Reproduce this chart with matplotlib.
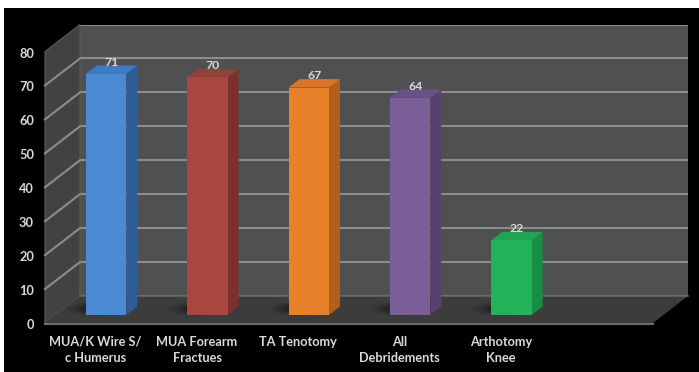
import matplotlib.pyplot as plt
from matplotlib.patches import Polygon, Rectangle, Ellipse
from matplotlib.transforms import IdentityTransform
import numpy as np

plt.rcParams['font.family'] = ['Lato', 'DejaVu Sans']

categories = ["MUA/K Wire S/\nc Humerus", "MUA Forearm\nFractues", "TA Tenotomy",
              "All\nDebridements", "Arthotomy\nKnee"]
values = [71, 70, 67, 64, 22]
yticks = [0, 10, 20, 30, 40, 50, 60, 70, 80]

front_colors = ["#4a8ad2", "#a9463f", "#e8822a", "#7a5e97", "#23b15c"]
side_colors = ["#2d5e98", "#7b302c", "#b35f1a", "#57416f", "#168f45"]
top_colors = ["#3d7cc4", "#93403a", "#d7762a", "#6a5287", "#1ea452"]

W, H = 699, 372
DX, DY = 35, 27          # depth offset of the front plane, in pixels
TXT = "#d9d9d9"
FS = 9.2

fig = plt.figure(figsize=(W / 100, H / 100), dpi=100, facecolor="white")
fig.add_artist(Rectangle((4 / W, 0), 1, 1 - 8 / H, transform=fig.transFigure,
                         facecolor="black", edgecolor="none", zorder=-10))

# back wall = the axes itself
ax = fig.add_axes([80 / W, (H - 296) / H, (688 - 80) / W, (296 - 24.5) / H])
ax.set_xlim(-0.5, 5.5)
ax.set_ylim(0, 80)
ax.set_facecolor("#4f5052")
for s in ax.spines.values():
    s.set_visible(False)
ax.set_xticks([])
ax.set_yticks(yticks)
ax.tick_params(left=False, labelleft=False)
ax.grid(axis="y", color="#8c8c8c", linewidth=1.5)
ax.set_axisbelow(True)

fig.canvas.draw()


def proj(x, v, d):
    px, py = ax.transData.transform((x, v))
    return (px - DX * d, py - DY * d)


def poly(pts, **kw):
    p = Polygon(pts, closed=True, transform=IdentityTransform(), clip_on=False, **kw)
    ax.add_artist(p)
    return p


def seg(a, b, **kw):
    ax.add_artist(plt.Line2D([a[0], b[0]], [a[1], b[1]], transform=IdentityTransform(),
                             clip_on=False, **kw))


x0, x1 = ax.get_xlim()

# left wall with its gridlines
poly([proj(x0, 0, 0), proj(x0, 80, 0), proj(x0, 80, 1), proj(x0, 0, 1)],
     facecolor="#414244", edgecolor="#5a5a5a", linewidth=0.8, zorder=2)
for t in yticks[1:-1]:
    seg(proj(x0, t, 0), proj(x0, t, 1), color="#8c8c8c", linewidth=1.5, zorder=2.1)

# floor
poly([proj(x0, 0, 0), proj(x1, 0, 0), proj(x1, 0, 1), proj(x0, 0, 1)],
     facecolor="#3c3c3d", edgecolor="none", zorder=2)
a, b = proj(x0, 0, 1), proj(x1, 0, 1)
seg((a[0], a[1] - 1), (b[0], b[1] - 1), color="#6e6e6e", linewidth=1.5, zorder=2.2)
seg(proj(x0, 0, 0), proj(x1, 0, 0), color="#666666", linewidth=1.2, zorder=2.2)

# bars
hw, d_front, d_back = 0.2, 0.7, 0.39
for i, v in enumerate(values):
    bl = proj(i - hw, 0, d_front)
    # soft shadow on the floor
    for w, h, al in [(56, 14, 0.10), (44, 10, 0.14), (32, 7, 0.18)]:
        ax.add_artist(Ellipse((bl[0] + 10, bl[1] + 6), w, h, transform=IdentityTransform(),
                              facecolor="black", alpha=al, edgecolor="none",
                              clip_on=False, zorder=3))
    poly([proj(i + hw, 0, d_front), proj(i + hw, 0, d_back),
          proj(i + hw, v, d_back), proj(i + hw, v, d_front)],
         facecolor=side_colors[i], edgecolor="none", zorder=4)
    poly([proj(i - hw, v, d_front), proj(i + hw, v, d_front),
          proj(i + hw, v, d_back), proj(i - hw, v, d_back)],
         facecolor=top_colors[i], edgecolor="none", zorder=4)
    poly([proj(i - hw, 0, d_front), proj(i + hw, 0, d_front),
          proj(i + hw, v, d_front), proj(i - hw, v, d_front)],
         facecolor=front_colors[i], edgecolor="none", zorder=4)
    lx, ly = proj(i, v, (d_front + d_back) / 2)
    ax.text(lx, ly + 2, str(v), transform=IdentityTransform(), ha="center", va="bottom",
            color=TXT, fontsize=8.8, fontweight="bold", zorder=5)

# value axis labels on the front plane
for t in yticks:
    px, py = proj(x0, t, 1)
    ax.text(px - 11, py - 2, str(t), transform=IdentityTransform(), ha="right",
            va="center", color=TXT, fontsize=FS, fontweight="bold")

# category labels on the front plane
for i, c in enumerate(categories):
    px, py = proj(i, 0, 1)
    ax.text(px, py - 13, c, transform=IdentityTransform(), ha="center", va="top",
            color=TXT, fontsize=FS, fontweight="bold", linespacing=1.45)

fig.savefig("out.png", dpi=100, facecolor="white")
